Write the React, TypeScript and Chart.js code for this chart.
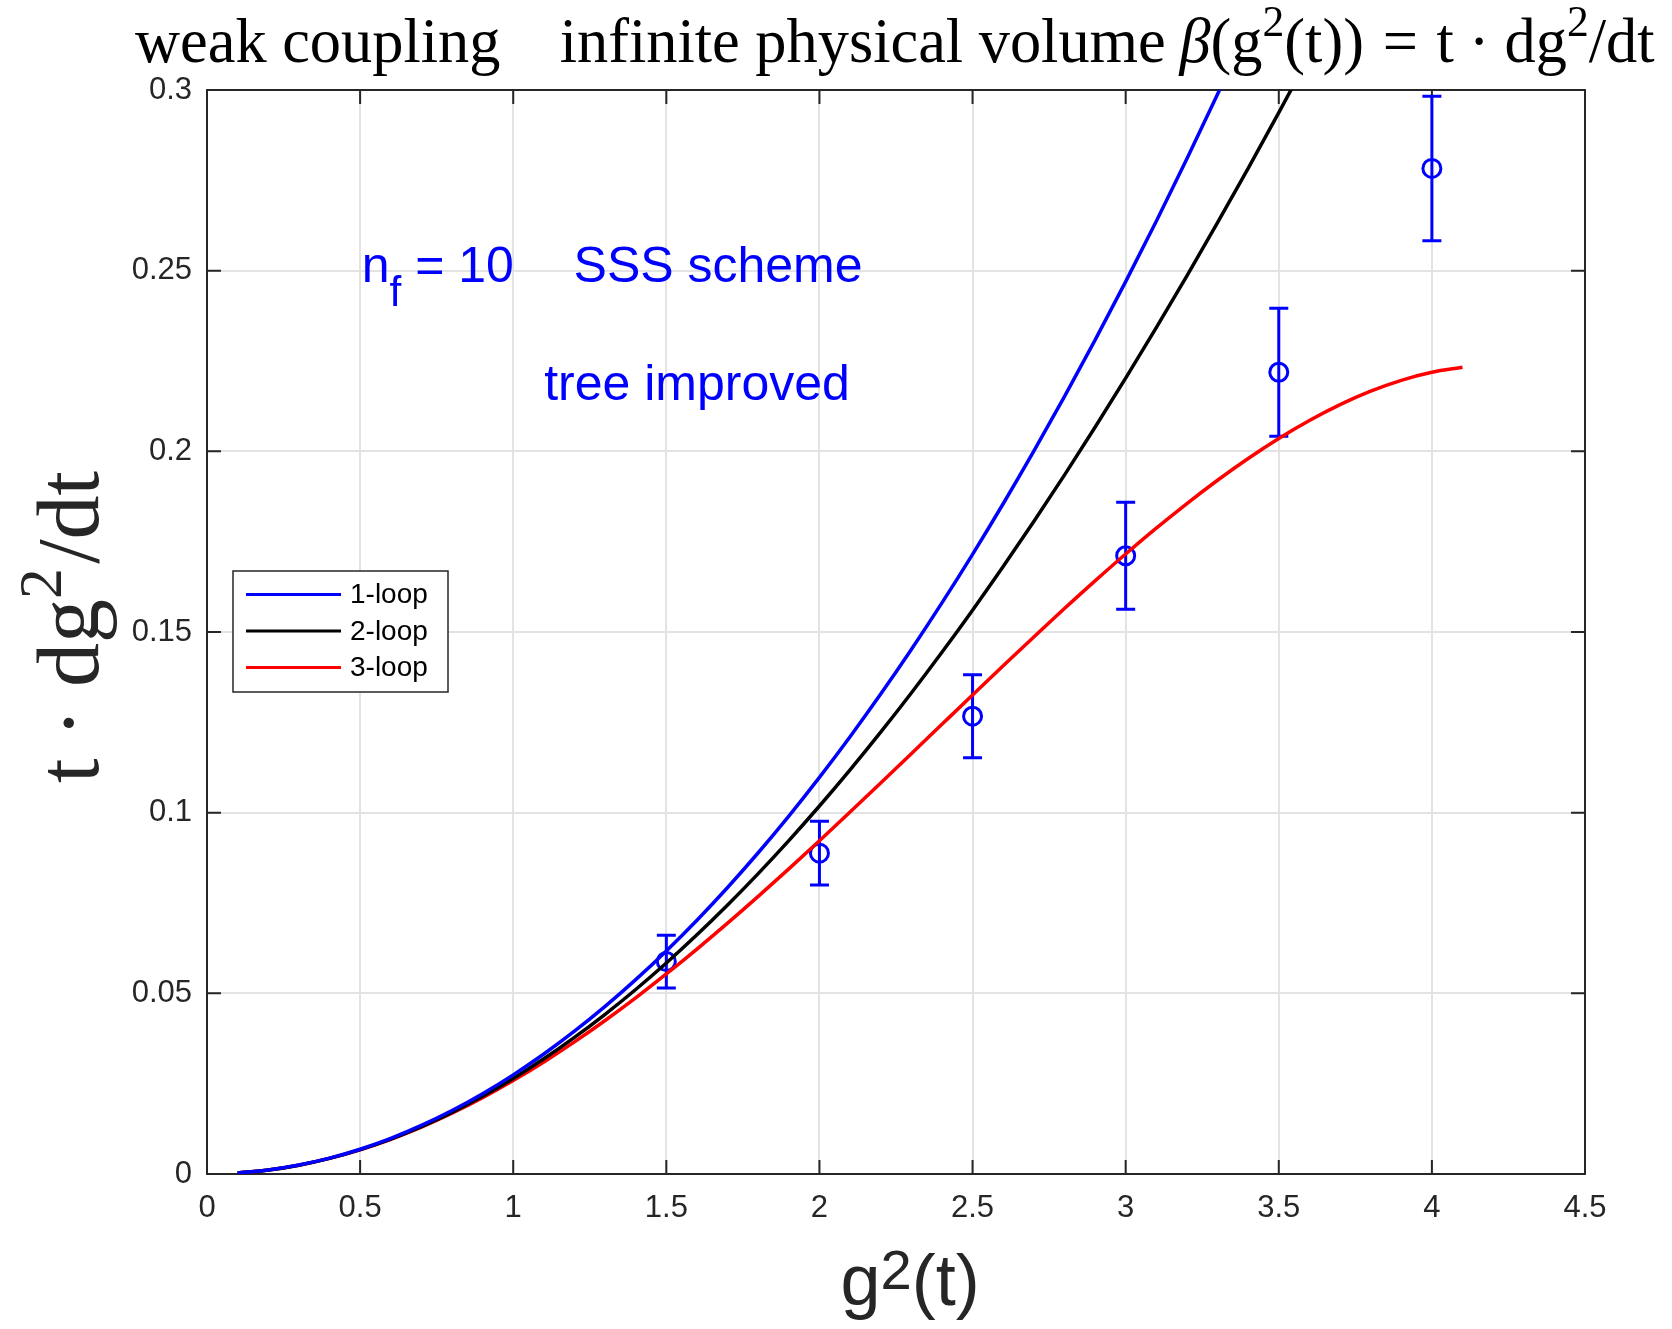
import React, { useEffect, useRef } from 'react';
import { Chart, registerables } from 'chart.js';

Chart.register(...registerables);

// ---- data ----
const oneLoopX = [0.1, 0.2, 0.3, 0.4, 0.5, 0.6, 0.7, 0.8, 0.9, 1.0, 1.1, 1.2, 1.3, 1.4, 1.5, 1.6, 1.7, 1.8, 1.9, 2.0, 2.1, 2.2, 2.3, 2.4, 2.5, 2.6, 2.7, 2.8, 2.9, 3.0, 3.1, 3.2, 3.3, 3.4];
const oneLoopY = [0.000274, 0.001098, 0.00247, 0.00439, 0.00686, 0.009878, 0.013446, 0.017562, 0.022226, 0.02744, 0.033202, 0.039514, 0.046374, 0.053782, 0.06174, 0.070246, 0.079302, 0.088906, 0.099058, 0.10976, 0.12101, 0.13281, 0.145158, 0.158054, 0.1715, 0.185494, 0.200038, 0.21513, 0.23077, 0.24696, 0.263698, 0.280986, 0.298822, 0.317206];

const twoLoopX = [0.1, 0.2, 0.3, 0.4, 0.5, 0.6, 0.7, 0.8, 0.9, 1.0, 1.1, 1.2, 1.3, 1.4, 1.5, 1.6, 1.7, 1.8, 1.9, 2.0, 2.1, 2.2, 2.3, 2.4, 2.5, 2.6, 2.7, 2.8, 2.9, 3.0, 3.1, 3.2, 3.3, 3.4, 3.5, 3.6];
const twoLoopY = [0.000273, 0.00109, 0.002443, 0.004327, 0.006736, 0.009665, 0.013107, 0.017056, 0.021505, 0.026451, 0.031886, 0.037805, 0.044201, 0.051068, 0.058402, 0.066195, 0.074443, 0.083138, 0.092274, 0.101848, 0.111851, 0.122279, 0.133125, 0.144382, 0.156047, 0.168111, 0.180572, 0.19342, 0.206649, 0.220257, 0.234235, 0.248578, 0.26328, 0.278334, 0.293737, 0.309481];

const threeLoopX = [0.1, 0.2, 0.3, 0.4, 0.5, 0.6, 0.7, 0.8, 0.9, 1.0, 1.1, 1.2, 1.3, 1.4, 1.5, 1.6, 1.7, 1.8, 1.9, 2.0, 2.1, 2.2, 2.3, 2.4, 2.5, 2.6, 2.7, 2.8, 2.9, 3.0, 3.1, 3.2, 3.3, 3.4, 3.5, 3.6, 3.7, 3.8, 3.9, 4.0, 4.1];
const threeLoopY = [0.000273, 0.001089, 0.002438, 0.004312, 0.006698, 0.009587, 0.012963, 0.01681, 0.021111, 0.02585, 0.031006, 0.036559, 0.042484, 0.048759, 0.05536, 0.062256, 0.069423, 0.076829, 0.084442, 0.092232, 0.100163, 0.1082, 0.116307, 0.124442, 0.13257, 0.140647, 0.148632, 0.156479, 0.164141, 0.171576, 0.178731, 0.185559, 0.192006, 0.19802, 0.203549, 0.208536, 0.212921, 0.216649, 0.219658, 0.221888, 0.223275];

const measX = [1.5, 2.0, 2.5, 3.0, 3.5, 4.0];
const measY = [0.0588, 0.0888, 0.1267, 0.1711, 0.2219, 0.2783];
const measErr = [0.0073, 0.0088, 0.0115, 0.0148, 0.0177, 0.0200];

const xTicks = [0, 0.5, 1, 1.5, 2, 2.5, 3, 3.5, 4, 4.5];
const yTicks = [0, 0.05, 0.1, 0.15, 0.2, 0.25, 0.3];

const seriesLabels = ['1-loop', '2-loop', '3-loop'];

// ---- styling ----
const AXIS = '#262626';
const BLUE = '#0000ff';
const SANS = '"Liberation Sans", Arial, Helvetica, sans-serif';
const SERIF = '"Liberation Serif", "Times New Roman", serif';

type Seg = { t?: string; scale?: number; rise?: number; italic?: boolean; gap?: number };

function segFont(s: Seg, size: number, family: string) {
  return `${s.italic ? 'italic ' : ''}${size * (s.scale || 1)}px ${family}`;
}
function richWidth(ctx: CanvasRenderingContext2D, segs: Seg[], size: number, family: string) {
  let w = 0;
  for (const s of segs) {
    if (s.gap) { w += s.gap * size; continue; }
    ctx.font = segFont(s, size, family);
    w += ctx.measureText(s.t || '').width;
  }
  return w;
}
function drawRich(ctx: CanvasRenderingContext2D, segs: Seg[], x: number, y: number, size: number, family: string) {
  let cx = x;
  for (const s of segs) {
    if (s.gap) { cx += s.gap * size; continue; }
    ctx.font = segFont(s, size, family);
    ctx.fillText(s.t || '', cx, y - (s.rise || 0) * size);
    cx += ctx.measureText(s.t || '').width;
  }
}

const titleSegs: Seg[] = [
  { t: 'weak coupling' },
  { gap: 0.95 },
  { t: 'infinite physical volume' },
  { gap: 0.22 },
  { t: 'β', italic: true },
  { t: '(g' },
  { t: '2', scale: 0.7, rise: 0.42 },
  { t: '(t))' },
  { gap: 0.3 },
  { t: '=' },
  { gap: 0.3 },
  { t: 't' },
  { gap: 0.24 },
  { t: '·' },
  { gap: 0.24 },
  { t: 'dg' },
  { t: '2', scale: 0.7, rise: 0.42 },
  { t: '/dt' },
];
const yLabelSegs: Seg[] = [
  { t: 't' },
  { gap: 0.24 },
  { t: '·' },
  { gap: 0.24 },
  { t: 'dg' },
  { t: '2', scale: 0.7, rise: 0.42 },
  { gap: 0.05 },
  { t: '/dt' },
];
const xLabelSegs: Seg[] = [
  { t: 'g' },
  { t: '2', scale: 0.78, rise: 0.22 },
  { t: '(t)' },
];

const framePlugin = {
  id: 'frame',
  beforeDatasetsDraw(chart: any) {
    const { ctx, chartArea: a, scales } = chart;
    const xs = scales.x, ys = scales.y;
    ctx.save();
    ctx.strokeStyle = AXIS;
    ctx.lineWidth = 2;
    ctx.strokeRect(a.left, a.top, a.right - a.left, a.bottom - a.top);
    const L = 14;
    ctx.beginPath();
    for (const v of xTicks) {
      const px = xs.getPixelForValue(v);
      ctx.moveTo(px, a.bottom); ctx.lineTo(px, a.bottom - L);
      ctx.moveTo(px, a.top); ctx.lineTo(px, a.top + L);
    }
    for (const v of yTicks) {
      const py = ys.getPixelForValue(v);
      ctx.moveTo(a.left, py); ctx.lineTo(a.left + L, py);
      ctx.moveTo(a.right, py); ctx.lineTo(a.right - L, py);
    }
    ctx.stroke();

    // error bars
    ctx.strokeStyle = BLUE;
    ctx.lineWidth = 3;
    ctx.beginPath();
    for (let i = 0; i < measX.length; i++) {
      const px = xs.getPixelForValue(measX[i]);
      const top = ys.getPixelForValue(measY[i] + measErr[i]);
      const bot = ys.getPixelForValue(measY[i] - measErr[i]);
      ctx.moveTo(px, top); ctx.lineTo(px, bot);
      ctx.moveTo(px - 9.5, top); ctx.lineTo(px + 9.5, top);
      ctx.moveTo(px - 9.5, bot); ctx.lineTo(px + 9.5, bot);
    }
    ctx.stroke();
    ctx.restore();
  },
  afterDraw(chart: any) {
    const { ctx, chartArea: a, scales } = chart;
    const xs = scales.x, ys = scales.y;
    ctx.save();
    ctx.textBaseline = 'alphabetic';
    ctx.textAlign = 'left';

    // title
    ctx.fillStyle = '#000000';
    let ts = 58;
    ts = ts * 1520 / richWidth(ctx, titleSegs, ts, SERIF);
    drawRich(ctx, titleSegs, 135, 62, ts, SERIF);

    // y label (rotated)
    let ysz = 76;
    ysz = ysz * 312 / richWidth(ctx, yLabelSegs, ysz, SERIF);
    const yw2 = richWidth(ctx, yLabelSegs, ysz, SERIF);
    ctx.save();
    ctx.fillStyle = AXIS;
    ctx.translate(98, 627);
    ctx.rotate(-Math.PI / 2);
    drawRich(ctx, yLabelSegs, -yw2 / 2, 0, ysz, SERIF);
    ctx.restore();

    // x label
    ctx.fillStyle = AXIS;
    const xsz = 72;
    const xw = richWidth(ctx, xLabelSegs, xsz, SANS);
    drawRich(ctx, xLabelSegs, 910 - xw / 2, 1305, xsz, SANS);

    // annotations
    ctx.fillStyle = BLUE;
    const as = 50;
    const nfx = xs.getPixelForValue(0.505), nfy = ys.getPixelForValue(0.2468);
    drawRich(ctx, [{ t: 'n' }, { t: 'f', scale: 0.85, rise: -0.48 }, { t: ' = 10' }], nfx, nfy, as, SANS);
    ctx.font = `${as}px ${SANS}`;
    ctx.fillText('SSS scheme', xs.getPixelForValue(1.197), ys.getPixelForValue(0.2468));
    ctx.fillText('tree improved', xs.getPixelForValue(1.101), ys.getPixelForValue(0.2142));

    // legend
    const lx = a.left + 26, ly = a.top + 481, lw = 215, lh = 121;
    ctx.fillStyle = '#ffffff';
    ctx.fillRect(lx, ly, lw, lh);
    ctx.strokeStyle = AXIS;
    ctx.lineWidth = 1.5;
    ctx.strokeRect(lx, ly, lw, lh);
    ctx.font = `28px ${SANS}`;
    ctx.textBaseline = 'middle';
    for (let i = 0; i < 3; i++) {
      const ds = chart.data.datasets[i];
      const ry = ly + 23.5 + i * 36.5;
      ctx.strokeStyle = ds.borderColor;
      ctx.lineWidth = 3;
      ctx.beginPath();
      ctx.moveTo(lx + 13, ry); ctx.lineTo(lx + 108, ry);
      ctx.stroke();
      ctx.fillStyle = '#000000';
      ctx.fillText(ds.label, lx + 117, ry + 1);
    }
    ctx.restore();
  },
};

function pts(xs: number[], ys: number[]) {
  return xs.map((x, i) => ({ x, y: ys[i] }));
}

export default function App() {
  const ref = useRef<HTMLCanvasElement>(null);
  useEffect(() => {
    document.body.style.margin = '0';
    const lineCommon = {
      showLine: true,
      pointRadius: 0,
      borderWidth: 3.5,
      fill: false,
      cubicInterpolationMode: 'monotone' as const,
    };
    const chart = new Chart(ref.current!, {
      type: 'scatter',
      data: {
        datasets: [
          { ...lineCommon, label: seriesLabels[0], data: pts(oneLoopX, oneLoopY), borderColor: BLUE, backgroundColor: BLUE },
          { ...lineCommon, label: seriesLabels[1], data: pts(twoLoopX, twoLoopY), borderColor: '#000000', backgroundColor: '#000000' },
          { ...lineCommon, label: seriesLabels[2], data: pts(threeLoopX, threeLoopY), borderColor: '#ff0000', backgroundColor: '#ff0000' },
          {
            label: 'data',
            data: pts(measX, measY),
            showLine: false,
            pointStyle: 'circle',
            pointRadius: 9,
            pointBorderWidth: 3,
            borderColor: BLUE,
            pointBorderColor: BLUE,
            backgroundColor: 'rgba(0,0,0,0)',
            pointBackgroundColor: 'rgba(0,0,0,0)',
          },
        ],
      } as any,
      options: {
        responsive: false,
        animation: false,
        events: [],
        layout: { padding: { left: 0, top: 90, right: 87, bottom: 0 } },
        plugins: {
          legend: { display: false },
          title: { display: false },
          tooltip: { enabled: false },
        },
        scales: {
          x: {
            type: 'linear',
            min: 0,
            max: 4.5,
            afterBuildTicks: (s: any) => { s.ticks = xTicks.map((v) => ({ value: v })); },
            afterFit: (s: any) => { s.height = 155; },
            grid: { color: '#e3e3e3', lineWidth: 2, drawTicks: false },
            border: { display: false },
            ticks: {
              padding: 16,
              color: AXIS,
              autoSkip: false,
              maxRotation: 0,
              font: { family: SANS, size: 31 },
              callback: (v: any) => String(v),
            },
          },
          y: {
            type: 'linear',
            min: 0,
            max: 0.3,
            afterBuildTicks: (s: any) => { s.ticks = yTicks.map((v) => ({ value: v })); },
            afterFit: (s: any) => { s.width = 207; },
            grid: { color: '#e3e3e3', lineWidth: 2, drawTicks: false },
            border: { display: false },
            ticks: {
              padding: 15,
              color: AXIS,
              autoSkip: false,
              font: { family: SANS, size: 31 },
              callback: (v: any) => String(v),
            },
          },
        },
      } as any,
      plugins: [framePlugin],
    });
    return () => chart.destroy();
  }, []);
  return (
    <div style={{ width: 1672, height: 1329, background: '#ffffff' }}>
      <canvas ref={ref} width={1672} height={1329} style={{ width: 1672, height: 1329, display: 'block' }} />
    </div>
  );
}
